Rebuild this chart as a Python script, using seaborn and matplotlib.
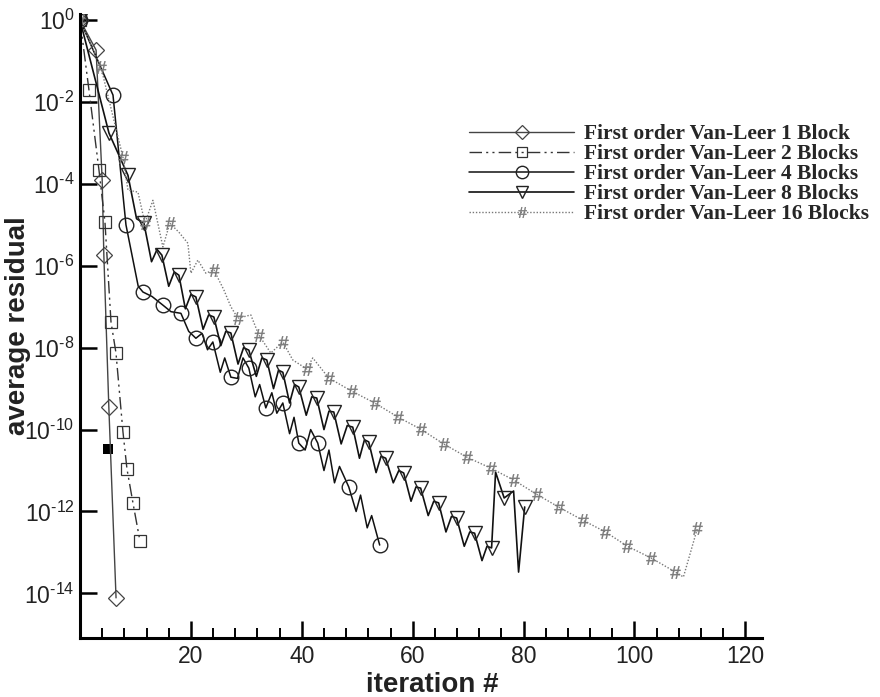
import numpy as np
import pandas as pd
import matplotlib
matplotlib.use("Agg")
import matplotlib.pyplot as plt
import seaborn as sns
from matplotlib.lines import Line2D
from matplotlib.ticker import MultipleLocator, NullLocator
from matplotlib.font_manager import FontProperties

# ---------------- data ----------------
series_labels = [
    "First order Van-Leer 1 Block",
    "First order Van-Leer 2 Blocks",
    "First order Van-Leer 4 Blocks",
    "First order Van-Leer 8 Blocks",
    "First order Van-Leer 16 Blocks",
]

# iteration, log10(average residual), marker flag
it_1 = [0, 2.9, 4.0, 4.3, 5.2, 6.5]
lg_1 = [0, -0.73, -3.9, -5.74, -9.45, -14.11]
mk_1 = [1, 1, 1, 1, 1, 1]

it_2 = [0, 1.62, 3.42, 4.5, 5.59, 6.49, 7.75, 8.47, 9.55, 10.81]
lg_2 = [0, -1.71, -3.66, -4.93, -7.37, -8.13, -10.06, -10.96, -11.79, -12.72]
mk_2 = [1, 1, 1, 1, 1, 1, 1, 1, 1, 1]

it_4 = [0, 5.95, 8.29, 10.5, 11.35, 13.0, 14.95, 16.4, 18.2, 19.6, 20.9, 22.0, 23.0,
        23.96, 25.3, 26.1, 27.21, 28.4, 29.4, 30.45, 31.6, 32.4, 33.51, 34.6, 35.5,
        36.58, 37.8, 38.6, 39.46, 40.6, 41.6, 42.88, 44.0, 44.9, 45.9, 46.8, 48.47,
        49.8, 50.6, 51.8, 52.6, 54.05]
lg_4 = [0, -1.83, -5.0, -6.5, -6.64, -6.75, -6.96, -7.12, -7.16, -7.6, -7.77, -7.65, -8.05,
        -7.86, -8.6, -8.25, -8.72, -8.75, -8.25, -8.5, -9.2, -8.9, -9.47, -9.1, -9.6,
        -9.35, -10.1, -9.7, -10.33, -10.5, -10.0, -10.33, -11.0, -10.5, -11.3, -10.9, -11.4,
        -12.0, -11.6, -12.4, -12.1, -12.82]
mk_4 = [1, 1, 1, 0, 1, 0, 1, 0, 1, 0, 1, 0, 0,
        1, 0, 0, 1, 0, 0, 1, 0, 0, 1, 0, 0,
        1, 0, 0, 1, 0, 0, 1, 0, 0, 0, 0, 1,
        0, 0, 0, 0, 1]

it_8 = [0, 5.23, 8.65, 10.2, 11.53, 12.9, 13.9, 14.77, 16.0, 17.0, 17.84, 19.0, 20.0, 20.9,
        22.2, 23.2, 24.14, 25.4, 26.3, 27.21, 28.5, 29.5, 30.45, 31.8, 32.8, 33.69,
        34.9, 35.8, 36.58, 37.8, 38.7, 39.46, 40.8, 41.8, 42.7, 44.0, 44.9, 45.77,
        47.1, 48.2, 49.19, 50.4, 51.3, 52.07, 53.4, 54.3, 55.14, 56.5, 57.5, 58.38,
        59.7, 60.6, 61.44, 62.8, 63.8, 64.68, 66.0, 67.0, 67.93, 69.3, 70.3, 71.17,
        72.5, 73.4, 74.23, 74.95, 76.5, 78.2, 79.1, 80.2]
lg_8 = [0, -2.76, -3.79, -4.85, -4.96, -5.9, -5.6, -5.74, -6.5, -6.15, -6.23, -7.05, -6.7, -6.76,
        -7.55, -7.2, -7.25, -7.95, -7.6, -7.64, -8.4, -8.0, -8.06, -8.7, -8.25, -8.3,
        -9.0, -8.55, -8.6, -9.35, -8.9, -8.96, -9.65, -9.2, -9.23, -10.0, -9.55, -9.57,
        -10.35, -9.9, -9.94, -10.7, -10.25, -10.3, -11.05, -10.65, -10.7, -11.3, -11.0, -11.06,
        -11.75, -11.4, -11.43, -12.1, -11.75, -11.79, -12.5, -12.12, -12.16, -12.85, -12.5, -12.53,
        -13.2, -12.85, -12.89, -11.04, -11.67, -11.5, -13.48, -11.89]
mk_8 = [1, 1, 1, 0, 1, 0, 0, 1, 0, 0, 1, 0, 0, 1,
        0, 0, 1, 0, 0, 1, 0, 0, 1, 0, 0, 1,
        0, 0, 1, 0, 0, 1, 0, 0, 1, 0, 0, 1,
        0, 0, 1, 0, 0, 1, 0, 0, 1, 0, 0, 1,
        0, 0, 1, 0, 0, 1, 0, 0, 1, 0, 0, 1,
        0, 0, 1, 0, 1, 0, 0, 1]

it_16 = [0, 3.78, 7.75, 8.65, 10.45, 11.71, 13.15, 14.95, 16.2, 17.84, 19.46, 20.0, 21.26,
         22.7, 24.14, 25.95, 27.21, 28.47, 30.81, 32.25, 34.41, 36.58, 38.38, 40.9, 41.98,
         44.86, 49.0, 53.15, 57.3, 61.44, 65.59, 69.73, 74.05, 78.2, 82.34, 86.31, 90.63,
         94.77, 98.74, 103.06, 107.39, 108.83, 111.35]
lg_16 = [0, -1.15, -3.35, -4.15, -4.2, -4.96, -4.4, -5.54, -4.96, -5.18, -5.45, -6.18, -5.86,
         -6.18, -6.1, -6.59, -7.0, -7.28, -7.2, -7.69, -8.13, -7.86, -8.3, -8.52, -8.25,
         -8.74, -9.06, -9.35, -9.69, -9.99, -10.35, -10.67, -10.94, -11.23, -11.58, -11.89, -12.21,
         -12.5, -12.85, -13.14, -13.48, -13.6, -12.41]
mk_16 = [1, 1, 1, 0, 0, 1, 0, 0, 1, 0, 0, 0, 0,
         0, 1, 0, 0, 1, 0, 1, 0, 1, 0, 1, 0,
         1, 1, 1, 1, 1, 1, 1, 1, 1, 1, 1, 1,
         1, 1, 1, 1, 0, 1]

# stray filled square seen in the picture
stray_it = [5.05]
stray_lg = [-10.48]

ytick_exp = [0, -2, -4, -6, -8, -10, -12, -14]
xtick_vals = [20, 40, 60, 80, 100, 120]

# ---------------- style ----------------
sns.set_theme(style="ticks")
plt.rcParams['font.family'] = ['Liberation Sans', 'DejaVu Sans']
plt.rcParams['mathtext.fontset'] = 'custom'
plt.rcParams['mathtext.rm'] = 'Liberation Sans'
plt.rcParams['mathtext.it'] = 'Liberation Sans:italic'
plt.rcParams['mathtext.bf'] = 'Liberation Sans:bold'

styles = [
    dict(color="#444444", ls="-", lw=1.0, marker="D", ms=8, mfc="none", mec="#444444", mew=0.9),
    dict(color="#333333", ls=(0, (9, 3, 1.5, 3, 1.5, 3)), lw=1.0, marker="s", ms=8, mfc="none", mec="#333333", mew=0.9),
    dict(color="#111111", ls="-", lw=1.1, marker="o", ms=10.5, mfc="none", mec="#222222", mew=1.0),
    dict(color="#111111", ls="-", lw=1.2, marker="v", ms=9.5, mfc="none", mec="#222222", mew=1.0),
    dict(color="#777777", ls=(0, (1, 1.3)), lw=1.0, marker=r"$\#$", ms=9, mfc="#777777", mec="#777777", mew=0.3),
]

data = [(it_1, lg_1, mk_1), (it_2, lg_2, mk_2), (it_4, lg_4, mk_4),
        (it_8, lg_8, mk_8), (it_16, lg_16, mk_16)]

fig = plt.figure(figsize=(8.8, 6.97), dpi=100)
ax = fig.add_axes([80 / 880, (697 - 638) / 697, 682 / 880, 624 / 697])

for (it, lg, mk), st, lab in zip(data, styles, series_labels):
    df = pd.DataFrame({"iteration": it, "residual": 10.0 ** np.array(lg, dtype=float)})
    sns.lineplot(data=df, x="iteration", y="residual", ax=ax, sort=False, estimator=None,
                 color=st["color"], linestyle=st["ls"], linewidth=st["lw"],
                 marker=st["marker"], markersize=st["ms"], mfc=st["mfc"], mec=st["mec"],
                 mew=st["mew"], markevery=[bool(v) for v in mk])

sns.scatterplot(x=stray_it, y=[10.0 ** v for v in stray_lg], marker="s", color="black",
                s=42, linewidth=0, ax=ax)

ax.set_yscale("log")
ax.set_ylim(10 ** -15.09, 10 ** 0.15)
ax.set_xlim(0, 123)
ax.set_yticks([10.0 ** e for e in ytick_exp],
              labels=[r"$10^{\text{%d}}$" % e for e in ytick_exp])
ax.yaxis.set_minor_locator(NullLocator())
ax.set_xticks(xtick_vals, labels=[str(v) for v in xtick_vals])
ax.xaxis.set_minor_locator(MultipleLocator(4))

ax.tick_params(axis="both", which="major", direction="in", length=12, width=1.8,
               labelsize=16.5, color="black", labelcolor="#222222")
ax.tick_params(axis="y", which="major", pad=4)
ax.tick_params(axis="x", which="major", pad=5)
ax.tick_params(axis="both", which="minor", direction="in", length=7, width=1.4, color="black")
sns.despine(ax=ax)
for sp in ["left", "bottom"]:
    ax.spines[sp].set_linewidth(2.2)
    ax.spines[sp].set_color("black")

ax.set_xlabel("iteration #", fontsize=20, fontweight="bold", color="#222222")
ax.set_ylabel("average residual", fontsize=20, fontweight="bold", color="#222222")
ax.xaxis.set_label_coords(0.516, -0.054)
ax.yaxis.set_label_coords(-0.072, 0.5)

handles = [Line2D([0], [0], color=st["color"], linestyle=st["ls"], linewidth=st["lw"],
                  marker=st["marker"], markersize=st["ms"] * 0.85, markerfacecolor=st["mfc"],
                  markeredgecolor=st["mec"], markeredgewidth=st["mew"]) for st in styles]
leg = ax.legend(handles, series_labels, loc="upper left",
                bbox_to_anchor=(469 / 880, 1 - 124 / 697), bbox_transform=fig.transFigure,
                frameon=False, borderpad=0, borderaxespad=0, labelspacing=0.0,
                handlelength=4.9, handletextpad=0.45, numpoints=1,
                prop=FontProperties(family="Liberation Serif", weight="bold", size=15.5))

fig.savefig("out.png", dpi=100)
